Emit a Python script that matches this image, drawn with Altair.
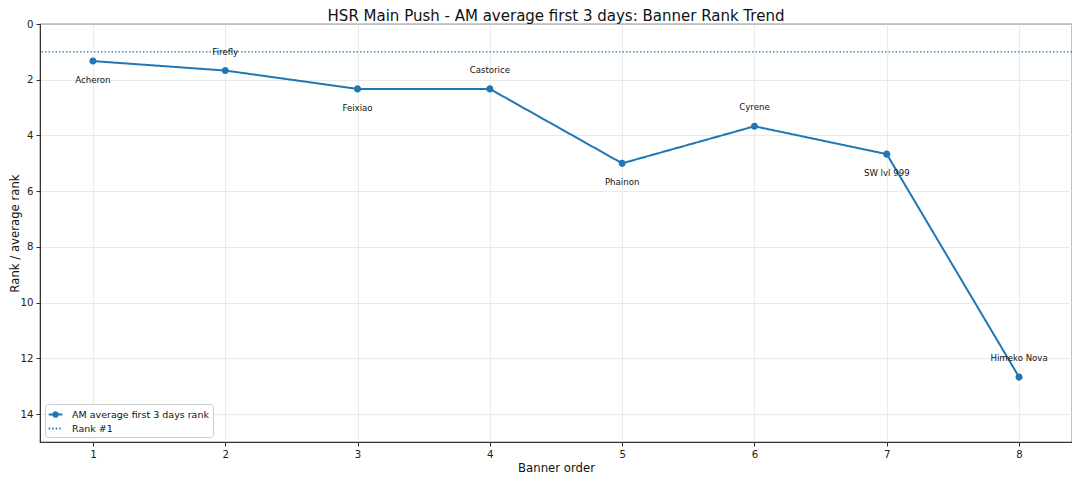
import altair as alt
import pandas as pd

banner_order = [1, 2, 3, 4, 5, 6, 7, 8]
characters = ["Acheron", "Firefly", "Feixiao", "Castorice", "Phainon", "Cyrene", "SW lvl 999", "Himeko Nova"]
avg_rank = [1.33, 1.67, 2.33, 2.33, 5.0, 3.67, 4.67, 12.67]
series_name = "AM average first 3 days rank"
ref_name = "Rank #1"
ref_rank = [1]
x_ticks = [1, 2, 3, 4, 5, 6, 7, 8]
y_ticks = [0, 2, 4, 6, 8, 10, 12, 14]

df = pd.DataFrame({"order": banner_order, "name": characters, "rank": avg_rank,
                   "series": [series_name] * len(banner_order)})
ref_df = pd.DataFrame({"rank": ref_rank, "series": [ref_name]})

FONT = "DejaVu Sans"
BLUE = "#1f77b4"
DOMAIN = [series_name, ref_name]
LINE_DOT = "M-1.3,0L1.3,0M0.45,0A0.45,0.45 0 1 1 -0.45,0A0.45,0.45 0 1 1 0.45,0Z"
LINE_ONLY = "M-1.3,0L1.3,0"

x_enc = alt.X("order:Q", title="Banner order",
              scale=alt.Scale(domain=[0.6, 8.4], nice=False, zero=False),
              axis=alt.Axis(values=x_ticks, format="d"))
y_enc = alt.Y("rank:Q", title="Rank / average rank",
              scale=alt.Scale(domain=[0, 15], reverse=True, nice=False),
              axis=alt.Axis(values=y_ticks, format="d"))

color_scale = alt.Scale(domain=DOMAIN, range=[BLUE, BLUE])
dash_scale = alt.Scale(domain=DOMAIN, range=[[1, 0], [1.5, 2]])
shape_scale = alt.Scale(domain=DOMAIN, range=[LINE_DOT, LINE_ONLY])
legend = alt.Legend(title=None, orient="bottom-left")

base = alt.Chart(df)

line = base.mark_line(strokeWidth=2).encode(
    x=x_enc, y=y_enc,
    color=alt.Color("series:N", scale=color_scale, legend=legend),
    strokeDash=alt.StrokeDash("series:N", scale=dash_scale, legend=legend),
)
points = base.mark_point(filled=True, size=250, opacity=1, strokeWidth=0).encode(
    x="order:Q", y="rank:Q",
    color=alt.Color("series:N", scale=color_scale, legend=legend),
    shape=alt.Shape("series:N", scale=shape_scale, legend=legend),
)

rule = alt.Chart(ref_df).mark_rule(strokeWidth=1.2).encode(
    y="rank:Q",
    color=alt.Color("series:N", scale=color_scale, legend=legend),
    strokeDash=alt.StrokeDash("series:N", scale=dash_scale, legend=legend),
)

lab_common = dict(font=FONT, fontSize=8.6, color="#111", align="center", baseline="middle")
labels_below = base.transform_filter("datum.order % 2 == 1").mark_text(dy=19, **lab_common).encode(
    x="order:Q", y="rank:Q", text="name:N")
labels_above = base.transform_filter("datum.order % 2 == 0").mark_text(dy=-19, **lab_common).encode(
    x="order:Q", y="rank:Q", text="name:N")

chart = alt.layer(rule, line, points, labels_below, labels_above).properties(
    width=1032, height=418,
    title=alt.TitleParams("HSR Main Push - AM average first 3 days: Banner Rank Trend",
                          anchor="middle", fontSize=15, font=FONT, fontWeight="normal",
                          color="#111", offset=0, frame="group", dy=5),
    autosize=alt.AutoSizeParams(type="none"),
    padding={"left": 32, "top": 16, "right": 0, "bottom": 31},
).configure_view(
    stroke="#333", strokeWidth=1.2
).configure_axis(
    labelFont=FONT, titleFont=FONT, labelFontSize=10.2, titleFontSize=11.7,
    labelColor="#222", titleColor="#111", titleFontWeight="normal",
    domainColor="#333", tickColor="#333", tickSize=4,
    gridColor="#e5e5e5", gridWidth=0.8,
).configure_axisX(
    labelPadding=3, titleBaseline="alphabetic", titleY=29
).configure_axisY(
    labelPadding=3, titleBaseline="alphabetic", titleX=-22
).configure_legend(
    labelFont=FONT, labelFontSize=9.5, labelColor="#111",
    fillColor="white", strokeColor="#cccccc", cornerRadius=3,
    padding=4, offset=5, symbolStrokeWidth=1.8, symbolSize=110, rowPadding=1,
    labelOffset=10, symbolFillColor=BLUE, symbolStrokeColor=BLUE,
)

chart.save("out.html", embed_options={"renderer": "svg", "actions": False})
